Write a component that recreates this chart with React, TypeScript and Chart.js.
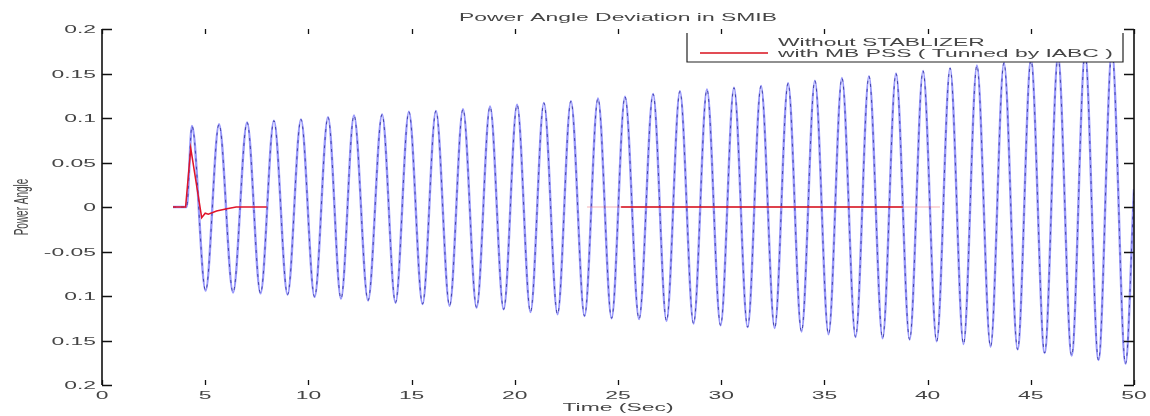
import React, { useEffect, useRef } from "react";
import { Chart, registerables } from "chart.js";

Chart.register(...registerables);

// ---------- data ----------
const X_TICKS = [0, 5, 10, 15, 20, 25, 30, 35, 40, 45, 50];
const X_TICK_LABELS = ["0", "5", "10", "15", "20", "25", "30", "35", "40", "45", "50"];
const Y_TICKS = [0.2, 0.15, 0.1, 0.05, 0, -0.05, -0.1, -0.15, -0.2];
const Y_TICK_LABELS = ["0.2", "0.15", "0.1", "0.05", "0", "-0.05", "0.1", "0.15", "0.2"];

const TITLE = "Power Angle Deviation in SMIB";
const X_TITLE = "Time (Sec)";
const Y_TITLE = "Power Angle";
const LEGEND_LABELS = ["Without STABLIZER", "with MB PSS ( Tunned by IABC )"];

// Without stabilizer: onset, then successive peaks and troughs
const BLUE_START_TIMES = [3.44, 4.1];
const BLUE_START_VALUES = [0, 0];
const PEAK_TIMES = [
  4.36, 5.67, 7.03, 8.33, 9.64, 10.95, 12.21, 13.57, 14.87, 16.18, 17.49, 18.8,
  20.11, 21.41, 22.72, 24.03, 25.34, 26.7, 28.0, 29.31, 30.62, 31.93, 33.24, 34.54,
  35.85, 37.16, 38.47, 39.78, 41.09, 42.39, 43.7, 45.01, 46.32, 47.63, 48.93,
];
const PEAK_VALUES = [
  0.091, 0.093, 0.095, 0.097, 0.0985, 0.101, 0.103, 0.104, 0.107, 0.108, 0.11, 0.113,
  0.115, 0.117, 0.119, 0.122, 0.124, 0.127, 0.13, 0.132, 0.134, 0.136, 0.139, 0.142,
  0.145, 0.147, 0.15, 0.153, 0.156, 0.159, 0.162, 0.165, 0.168, 0.171, 0.174,
];
const TROUGH_TIMES = [
  5.02, 6.35, 7.68, 8.99, 10.3, 11.58, 12.89, 14.22, 15.53, 16.84, 18.15, 19.46,
  20.76, 22.07, 23.38, 24.69, 26.02, 27.35, 28.66, 29.97, 31.28, 32.59, 33.89, 35.2,
  36.51, 37.82, 39.13, 40.44, 41.74, 43.05, 44.36, 45.67, 46.98, 48.28, 49.59,
];
const TROUGH_VALUES = [
  -0.094, -0.096, -0.097, -0.0985, -0.101, -0.103, -0.105, -0.1075, -0.109, -0.111, -0.113, -0.115,
  -0.118, -0.1205, -0.1225, -0.125, -0.126, -0.128, -0.131, -0.133, -0.135, -0.136, -0.14, -0.143,
  -0.146, -0.1475, -0.149, -0.151, -0.154, -0.157, -0.16, -0.164, -0.167, -0.172, -0.176,
];
const BLUE_END_TIME = 50;
const BLUE_END_VALUE = 0.02;

// With MB PSS
const RED_TIMES = [3.44, 4.05, 4.3, 4.83, 5.0, 5.15, 5.55, 6.05, 6.5, 7.98];
const RED_VALUES = [0, 0, 0.066, -0.012, -0.007, -0.008, -0.0045, -0.002, 0, 0];
const RED_LATE_TIMES = [25.15, 38.8];
const RED_LATE_VALUES = [0, 0];
const RED_FADED_TIMES = [23.5, 40.6];
const RED_FADED_VALUES = [0, 0];

// ---------- styling ----------
const STRETCH = 2.08;
const FONT = "'Liberation Sans', Arial, Helvetica, sans-serif";
const TEXT_COLOR = "#454545";

function stretchedText(
  ctx: CanvasRenderingContext2D,
  text: string,
  x: number,
  y: number,
  align: CanvasTextAlign,
  size: number
) {
  ctx.save();
  ctx.translate(x, y);
  ctx.scale(STRETCH, 1);
  ctx.font = `${size}px ${FONT}`;
  ctx.fillStyle = TEXT_COLOR;
  ctx.textAlign = align;
  ctx.textBaseline = "alphabetic";
  ctx.fillText(text, 0, 0);
  ctx.restore();
}

const legendPlugin = {
  id: "matlabLegend",
  afterDatasetsDraw(chart: any) {
    const ctx: CanvasRenderingContext2D = chart.ctx;
    const left = 687;
    const right = 1123;
    const top = 31;
    const bottom = 62;
    ctx.save();
    ctx.fillStyle = "#ffffff";
    ctx.fillRect(left, top, right - left, bottom - top);
    ctx.strokeStyle = "#222";
    ctx.lineWidth = 1.2;
    ctx.beginPath();
    ctx.moveTo(left, 33);
    ctx.lineTo(left, bottom);
    ctx.lineTo(right, bottom);
    ctx.lineTo(right, 33);
    ctx.stroke();
    ctx.strokeStyle = "#d8101c";
    ctx.lineWidth = 1.3;
    ctx.beginPath();
    ctx.moveTo(700, 53);
    ctx.lineTo(768, 53);
    ctx.stroke();
    ctx.restore();
    stretchedText(ctx, LEGEND_LABELS[0], 778, 45.5, "left", 11);
    stretchedText(ctx, LEGEND_LABELS[1], 778, 57, "left", 11);
  },
};

const axesPlugin = {
  id: "matlabAxes",
  afterDraw(chart: any) {
    const ctx: CanvasRenderingContext2D = chart.ctx;
    const xs = chart.scales.x;
    const ys = chart.scales.y;
    const { left, right, top, bottom } = chart.chartArea;
    ctx.save();
    ctx.strokeStyle = "#111";
    ctx.lineWidth = 1.6;
    ctx.beginPath();
    ctx.moveTo(left, top);
    ctx.lineTo(left, bottom);
    ctx.moveTo(right, top);
    ctx.lineTo(right, bottom);
    ctx.stroke();
    ctx.lineWidth = 1.3;
    ctx.beginPath();
    Y_TICKS.forEach((v) => {
      const py = Math.round(ys.getPixelForValue(v)) + 0.5;
      ctx.moveTo(left, py);
      ctx.lineTo(left + 10, py);
      ctx.moveTo(right, py);
      ctx.lineTo(right - 10, py);
    });
    X_TICKS.forEach((v) => {
      const px = Math.round(xs.getPixelForValue(v)) + 0.5;
      ctx.moveTo(px, bottom);
      ctx.lineTo(px, bottom - 5);
      ctx.moveTo(px, top);
      ctx.lineTo(px, top + 5);
    });
    ctx.stroke();
    ctx.restore();

    Y_TICKS.forEach((v, i) => {
      stretchedText(ctx, Y_TICK_LABELS[i], 96, ys.getPixelForValue(v) + 4, "right", 11);
    });
    X_TICKS.forEach((v, i) => {
      stretchedText(ctx, X_TICK_LABELS[i], xs.getPixelForValue(v), 399, "center", 11);
    });
    stretchedText(ctx, TITLE, (left + right) / 2, 21, "center", 11);
    stretchedText(ctx, X_TITLE, (left + right) / 2, 411, "center", 11);

    ctx.save();
    ctx.translate(22, (top + bottom) / 2);
    ctx.scale(STRETCH, 1);
    ctx.rotate(-Math.PI / 2);
    ctx.font = `10px ${FONT}`;
    ctx.fillStyle = TEXT_COLOR;
    ctx.textAlign = "center";
    ctx.textBaseline = "middle";
    ctx.fillText(Y_TITLE, 0, 0);
    ctx.restore();
  },
};

function toPoints(ts: number[], vs: number[]) {
  return ts.map((t, i) => ({ x: t, y: vs[i] }));
}

export default function App() {
  const canvasRef = useRef<HTMLCanvasElement | null>(null);

  useEffect(() => {
    const canvas = canvasRef.current;
    if (!canvas) return;

    const bluePoints: { x: number; y: number }[] = toPoints(BLUE_START_TIMES, BLUE_START_VALUES);
    PEAK_TIMES.forEach((t, i) => {
      bluePoints.push({ x: t, y: PEAK_VALUES[i] });
      bluePoints.push({ x: TROUGH_TIMES[i], y: TROUGH_VALUES[i] });
    });
    bluePoints.push({ x: BLUE_END_TIME, y: BLUE_END_VALUE });

    const chart = new Chart(canvas, {
      type: "line",
      data: {
        datasets: [
          {
            label: LEGEND_LABELS[1],
            data: toPoints(RED_TIMES, RED_VALUES),
            borderColor: "#e0142a",
            borderWidth: 1.5,
            pointRadius: 0,
            tension: 0,
            order: 0,
          },
          {
            label: LEGEND_LABELS[1] + " late",
            data: toPoints(RED_LATE_TIMES, RED_LATE_VALUES),
            borderColor: "#d40f1c",
            borderWidth: 1.6,
            pointRadius: 0,
            order: 0.5,
          },
          {
            label: LEGEND_LABELS[1] + " faded",
            data: toPoints(RED_FADED_TIMES, RED_FADED_VALUES),
            borderColor: "rgba(240,110,120,0.55)",
            borderWidth: 1.2,
            pointRadius: 0,
            order: 1,
          },
          {
            label: LEGEND_LABELS[0] + " core",
            data: bluePoints,
            borderColor: "rgba(25,25,130,0.75)",
            borderWidth: 0.9,
            borderDash: [3, 5],
            pointRadius: 0,
            cubicInterpolationMode: "monotone",
            order: 2,
          },
          {
            label: LEGEND_LABELS[0],
            data: bluePoints,
            borderColor: "rgba(128,128,250,0.8)",
            borderWidth: 2.4,
            pointRadius: 0,
            cubicInterpolationMode: "monotone",
            order: 3,
          },
        ],
      },
      options: {
        animation: false,
        responsive: false,
        devicePixelRatio: 1,
        layout: { padding: { left: 102, right: 16, top: 29, bottom: 31 } },
        scales: {
          x: { type: "linear", min: 0, max: 50, display: false },
          y: { type: "linear", min: -0.2, max: 0.2, display: false },
        },
        plugins: {
          legend: { display: false },
          tooltip: { enabled: false },
          title: { display: false },
        },
        events: [],
      },
      plugins: [legendPlugin, axesPlugin],
    });

    return () => chart.destroy();
  }, []);

  return (
    <div style={{ position: "fixed", left: 0, top: 0, width: 1150, height: 416, background: "#fff" }}>
      <canvas ref={canvasRef} width={1150} height={416} style={{ width: 1150, height: 416, display: "block" }} />
    </div>
  );
}
